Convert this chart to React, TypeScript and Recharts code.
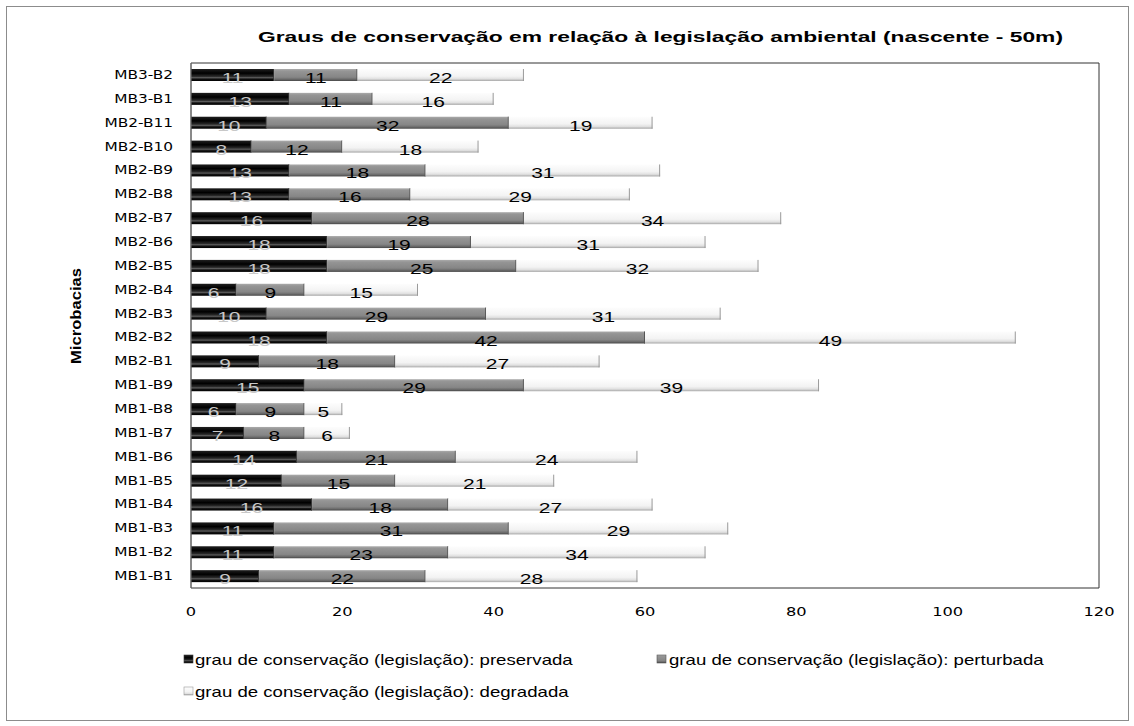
import React from 'react';
import { BarChart, Bar, XAxis, YAxis, LabelList, ReferenceArea } from 'recharts';

// Microbasins, listed top to bottom as they appear on the category axis
const categories = [
  'MB3-B2', 'MB3-B1', 'MB2-B11', 'MB2-B10', 'MB2-B9', 'MB2-B8', 'MB2-B7',
  'MB2-B6', 'MB2-B5', 'MB2-B4', 'MB2-B3', 'MB2-B2', 'MB2-B1', 'MB1-B9',
  'MB1-B8', 'MB1-B7', 'MB1-B6', 'MB1-B5', 'MB1-B4', 'MB1-B3', 'MB1-B2', 'MB1-B1',
];
const preservada = [11, 13, 10, 8, 13, 13, 16, 18, 18, 6, 10, 18, 9, 15, 6, 7, 14, 12, 16, 11, 11, 9];
const perturbada = [11, 11, 32, 12, 18, 16, 28, 19, 25, 9, 29, 42, 18, 29, 9, 8, 21, 15, 18, 31, 23, 22];
const degradada = [22, 16, 19, 18, 31, 29, 34, 31, 32, 15, 31, 49, 27, 39, 5, 6, 24, 21, 27, 29, 34, 28];
const xTicks = [0, 20, 40, 60, 80, 100, 120];

const title = 'Graus de conservação em relação à legislação ambiental (nascente - 50m)';
const yTitle = 'Microbacias';

const series = [
  { key: 'preservada', name: 'grau de conservação (legislação): preservada', grad: 'gPres', edge: '#3a3a3a', text: '#c8c8c8' },
  { key: 'perturbada', name: 'grau de conservação (legislação): perturbada', grad: 'gPert', edge: '#555555', text: '#000000' },
  { key: 'degradada', name: 'grau de conservação (legislação): degradada', grad: 'gDeg', edge: '#9a9a9a', text: '#000000' },
];

const data = categories.map((name, i) => ({
  name,
  preservada: preservada[i],
  perturbada: perturbada[i],
  degradada: degradada[i],
}));

const SANS = '"Liberation Sans", Arial, sans-serif';
const WIDE = '"DejaVu Sans", Verdana, sans-serif';

// text stretched horizontally around its anchor point
function SText({ x, y, sx, anchor = 'start', children, ...rest }: any) {
  return (
    <text transform={`translate(${x},${y}) scale(${sx},1)`} textAnchor={anchor} {...rest}>
      {children}
    </text>
  );
}

function Gradients({ suffix = '' }: { suffix?: string }) {
  return (
    <defs>
      <linearGradient id={`gPres${suffix}`} x1="0" y1="0" x2="0" y2="1">
        <stop offset="0%" stopColor="#202020" />
        <stop offset="35%" stopColor="#000000" />
        <stop offset="62%" stopColor="#2a2a2a" />
        <stop offset="72%" stopColor="#5c5c5c" />
        <stop offset="84%" stopColor="#111111" />
        <stop offset="100%" stopColor="#000000" />
      </linearGradient>
      <linearGradient id={`gPert${suffix}`} x1="0" y1="0" x2="0" y2="1">
        <stop offset="0%" stopColor="#ababab" />
        <stop offset="18%" stopColor="#959595" />
        <stop offset="68%" stopColor="#868686" />
        <stop offset="85%" stopColor="#6c6c6c" />
        <stop offset="100%" stopColor="#474747" />
      </linearGradient>
      <linearGradient id={`gDeg${suffix}`} x1="0" y1="0" x2="0" y2="1">
        <stop offset="0%" stopColor="#fdfdfd" />
        <stop offset="60%" stopColor="#f3f3f3" />
        <stop offset="82%" stopColor="#e0e0e0" />
        <stop offset="100%" stopColor="#a6a6a6" />
      </linearGradient>
    </defs>
  );
}

const makeShape = (grad: string, edge: string) => (props: any) => {
  const { x, y, width, height } = props;
  if (!width || width <= 0) return <g />;
  return (
    <g>
      <rect x={x} y={y} width={width} height={height} fill={`url(#${grad})`} />
      <line x1={x + width - 0.5} x2={x + width - 0.5} y1={y} y2={y + height} stroke={edge} strokeWidth={1} />
    </g>
  );
};

const makeLabel = (color: string) => (props: any) => {
  const { x, y, width, height, value } = props;
  return (
    <SText x={x + width / 2} y={y + height / 2 + 8} sx={1.5} anchor="middle"
      fontFamily={SANS} fontSize={14} fill={color}>
      {value}
    </SText>
  );
};

const XTick = (props: any) => (
  <SText x={props.x} y={props.y + 20} sx={1.25} anchor="middle" fontFamily={WIDE} fontSize={13} fill="#000">
    {props.payload.value}
  </SText>
);

const YTick = (props: any) => (
  <SText x={props.x - 10} y={props.y + 4} sx={1.28} anchor="end" fontFamily={WIDE} fontSize={12} fill="#000">
    {props.payload.value}
  </SText>
);

function LegendOverlay() {
  const items = [
    { s: series[0], x: 184, y: 655, tx: 195, ty: 665 },
    { s: series[1], x: 657, y: 655, tx: 669, ty: 665 },
    { s: series[2], x: 184, y: 687, tx: 195, ty: 697 },
  ];
  return (
    <g>
      {items.map(({ s, x, y, tx, ty }) => (
        <g key={s.key}>
          <rect x={x} y={y} width={9} height={8} fill={`url(#${s.grad}L)`} stroke={s.edge} strokeWidth={0.6} />
          <SText x={tx} y={ty} sx={1.33} fontFamily={SANS} fontSize={14} fill="#000">
            {s.name}
          </SText>
        </g>
      ))}
    </g>
  );
}

export default function App() {
  return (
    <div style={{ position: 'absolute', left: 0, top: 0, width: 1134, height: 726, background: '#fff' }}>
      <div style={{ position: 'absolute', left: 6, top: 6, width: 1121, height: 713, border: '1px solid #8c8c8c' }} />
      <div style={{ position: 'absolute', left: 0, top: 0 }}>
        <BarChart width={1134} height={726} data={data} layout="vertical"
          margin={{ top: 63, right: 35, bottom: 108, left: 91 }} barSize={12}>
          <Gradients />
          <ReferenceArea x1={0} x2={120} fill="none" stroke="#333" strokeWidth={1} ifOverflow="visible" />
          <XAxis type="number" domain={[0, 120]} ticks={xTicks} height={30}
            axisLine={false} tickLine={false} tick={<XTick />} interval={0} />
          <YAxis type="category" dataKey="name" width={100} axisLine={{ stroke: '#7a7a7a' }}
            tickLine={false} tick={<YTick />} interval={0} />
          {series.map((s) => (
            <Bar key={s.key} dataKey={s.key} name={s.name} stackId="a" isAnimationActive={false}
              shape={makeShape(s.grad, s.edge)}>
              <LabelList dataKey={s.key} content={makeLabel(s.text)} />
            </Bar>
          ))}
        </BarChart>
      </div>
      <svg width={1134} height={726} style={{ position: 'absolute', left: 0, top: 0, pointerEvents: 'none' }}>
        <Gradients suffix="L" />
        <text x={258} y={42} textLength={805} lengthAdjust="spacingAndGlyphs"
          fontFamily={SANS} fontSize={15.5} fontWeight="bold" fill="#000">
          {title}
        </text>
        <text transform="translate(81,316) rotate(-90)" textAnchor="middle" textLength={96}
          lengthAdjust="spacingAndGlyphs" fontFamily={SANS} fontSize={15} fontWeight="bold" fill="#000">
          {yTitle}
        </text>
        <LegendOverlay />
      </svg>
    </div>
  );
}
